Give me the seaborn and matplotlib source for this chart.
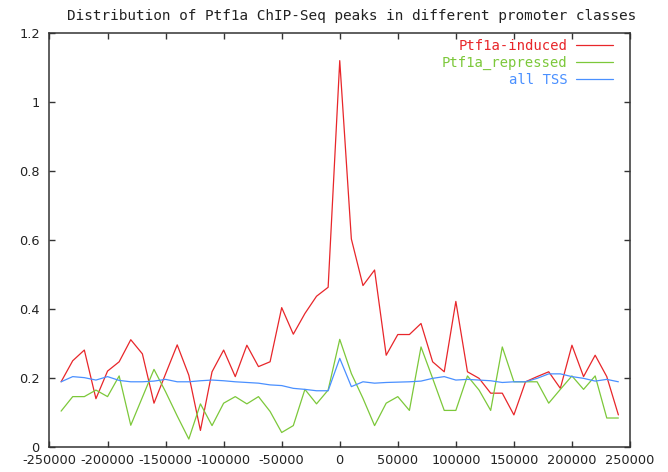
import numpy as np
import pandas as pd
import matplotlib
matplotlib.use("Agg")
import matplotlib.pyplot as plt
from matplotlib.ticker import FuncFormatter, MultipleLocator
import seaborn as sns

# distance to TSS (bp), one bin every 10 kb
positions = list(range(-240000, 240001, 10000))

induced = [0.189, 0.250, 0.281, 0.140, 0.220, 0.247, 0.311, 0.270, 0.127, 0.212,
           0.296, 0.208, 0.048, 0.218, 0.281, 0.204, 0.295, 0.233, 0.247, 0.404,
           0.327, 0.387, 0.437, 0.463, 1.120, 0.603, 0.468, 0.513, 0.266, 0.326,
           0.326, 0.358, 0.247, 0.218, 0.422, 0.218, 0.199, 0.156, 0.156, 0.093,
           0.189, 0.204, 0.218, 0.170, 0.295, 0.204, 0.266, 0.204, 0.093]

repressed = [0.104, 0.146, 0.146, 0.165, 0.146, 0.206, 0.063, 0.144, 0.225, 0.160,
             0.090, 0.023, 0.125, 0.062, 0.127, 0.146, 0.125, 0.146, 0.103, 0.042,
             0.062, 0.167, 0.125, 0.165, 0.312, 0.213, 0.141, 0.062, 0.127, 0.146,
             0.106, 0.290, 0.199, 0.106, 0.106, 0.206, 0.165, 0.106, 0.290, 0.189,
             0.189, 0.189, 0.127, 0.167, 0.206, 0.167, 0.206, 0.084, 0.084]

all_tss = [0.189, 0.204, 0.201, 0.194, 0.204, 0.193, 0.189, 0.189, 0.191, 0.196,
           0.189, 0.189, 0.192, 0.194, 0.192, 0.189, 0.187, 0.185, 0.180, 0.178,
           0.170, 0.167, 0.163, 0.163, 0.257, 0.175, 0.189, 0.185, 0.187, 0.188,
           0.189, 0.191, 0.199, 0.204, 0.194, 0.196, 0.194, 0.192, 0.187, 0.189,
           0.189, 0.199, 0.212, 0.212, 0.204, 0.199, 0.191, 0.196, 0.189]

series_names = ["Ptf1a-induced", "Ptf1a_repressed", "all TSS"]
colors = ["#e8262a", "#7cc83a", "#4a90ff"]

df = pd.DataFrame({
    "pos": positions * 3,
    "value": induced + repressed + all_tss,
    "cls": np.repeat(series_names, len(positions)),
})

sns.set_style("ticks")
plt.rcParams["font.family"] = ["DejaVu Sans"]

fig = plt.figure(figsize=(6.68, 4.72), dpi=100)
ax = fig.add_axes([0.0741, 0.053, 0.869, 0.877])

sns.lineplot(data=df, x="pos", y="value", hue="cls", hue_order=series_names,
             palette=colors, linewidth=0.9, ax=ax)

ax.set_xlim(-250000, 250000)
ax.set_ylim(0, 1.2)
ax.xaxis.set_major_locator(MultipleLocator(50000))
ax.yaxis.set_major_locator(MultipleLocator(0.2))
fmt = FuncFormatter(lambda v, p: "%g" % round(v, 6))
ax.xaxis.set_major_formatter(fmt)
ax.yaxis.set_major_formatter(fmt)
ax.set_xlabel("")
ax.set_ylabel("")

for s in ax.spines.values():
    s.set_visible(True)
    s.set_color("#333333")
    s.set_linewidth(1.1)
ax.tick_params(direction="in", length=4, width=1, color="#333333",
               top=True, right=True, labelsize=9.3, labelcolor="#222222")
ax.tick_params(axis="x", pad=5)
ax.tick_params(axis="y", pad=7)

# title sits a bit right of the axes centre, as in the original
fig.text(0.527, 0.966, "Distribution of Ptf1a ChIP-Seq peaks in different promoter classes",
         ha="center", va="center", fontsize=10.4, family="DejaVu Sans Mono", color="#222222")

leg = ax.legend(loc="upper right", bbox_to_anchor=(0.971, 0.985), frameon=False,
                markerfirst=False, handlelength=2.7, handletextpad=0.6,
                labelspacing=0.2, borderpad=0, borderaxespad=0,
                prop={"family": "DejaVu Sans Mono", "size": 10})
for txt, c in zip(leg.get_texts(), colors):
    txt.set_color(c)

fig.savefig("out.png", dpi=100)
